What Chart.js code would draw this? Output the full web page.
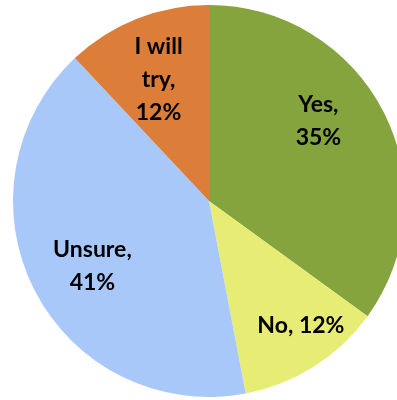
<!DOCTYPE html>
<html>
<head>
<meta charset="utf-8">
<script src="https://cdn.jsdelivr.net/npm/chart.js@4/dist/chart.umd.min.js"></script>
<style>
  html, body { margin:0; padding:0; background:#fff; overflow:hidden; }
  #wrap { position:relative; width:418px; height:402px; }
</style>
</head>
<body>
<div id="wrap"><canvas id="pie"></canvas></div>
<script>
// survey answers
const answers  = ['Yes', 'No', 'Unsure', 'I will try'];
const shares   = [35, 12, 41, 12];
const colours  = ['#86A43E', '#E7EC74', '#A9C8FA', '#DC7E3A'];
// label text lines per slice
const labelLines = [['Yes,', '35%'], ['No, 12%'], ['Unsure,', '41%'], ['I will', 'try,', '12%']];

// where each label sits: fraction of radius, and turn from the slice middle (deg)
const spots = [{ r:0.69, turn:-9 }, { r:0.79, turn:-4 }, { r:0.68, turn:-2 }, { r:0.67, turn:-1 }];

const sliceLabels = {
  id: 'sliceLabels',
  afterDatasetsDraw(chart) {
    const ctx = chart.ctx;
    const arcs = chart.getDatasetMeta(0).data;
    ctx.save();
    ctx.font = 'bold 23px Lato, "Open Sans", sans-serif';
    ctx.fillStyle = '#000';
    ctx.textAlign = 'center';
    ctx.textBaseline = 'middle';
    const lh = 33;
    arcs.forEach((arc, i) => {
      const p = arc.getProps(['x','y','startAngle','endAngle','outerRadius'], true);
      const mid = (p.startAngle + p.endAngle) / 2 + spots[i].turn * Math.PI / 180;
      const rr = p.outerRadius * spots[i].r;
      const cx = p.x + Math.cos(mid) * rr;
      const cy = p.y + Math.sin(mid) * rr;
      const lines = labelLines[i];
      lines.forEach((t, k) => {
        ctx.fillText(t, cx, cy + (k - (lines.length - 1) / 2) * lh);
      });
    });
    ctx.restore();
  }
};

new Chart(document.getElementById('pie'), {
  type: 'pie',
  data: {
    labels: answers,
    datasets: [{
      data: shares,
      backgroundColor: colours,
      borderWidth: 0
    }]
  },
  options: {
    responsive: true, maintainAspectRatio: false,
    animation: false,
    layout: { padding: 5 },
    plugins: { legend: { display:false }, tooltip: { enabled:false } }
  },
  plugins: [sliceLabels]
});
</script>
</body>
</html>
